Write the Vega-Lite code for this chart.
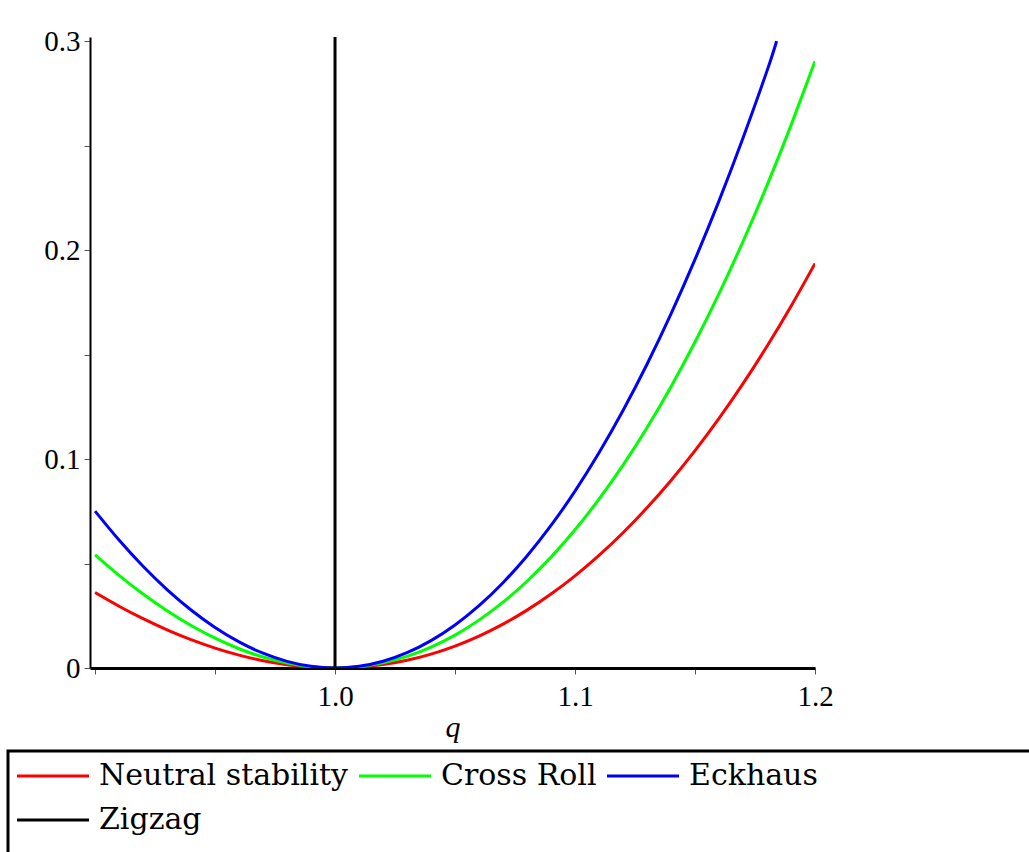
{
  "$schema": "https://vega.github.io/schema/vega-lite/v6.json",
  "width": 725,
  "height": 631,
  "autosize": {"type": "none"},
  "padding": {"left": 90, "top": 37, "right": 214, "bottom": 184},
  "background": "white",
  "config": {"view": {"stroke": null}},
  "data": {"values": [
    {"series": "Neutral stability", "q": 0.90, "value": 0.036100},
    {"series": "Neutral stability", "q": 0.91, "value": 0.029550},
    {"series": "Neutral stability", "q": 0.92, "value": 0.023593},
    {"series": "Neutral stability", "q": 0.93, "value": 0.018252},
    {"series": "Neutral stability", "q": 0.94, "value": 0.013549},
    {"series": "Neutral stability", "q": 0.95, "value": 0.009506},
    {"series": "Neutral stability", "q": 0.96, "value": 0.006147},
    {"series": "Neutral stability", "q": 0.97, "value": 0.003493},
    {"series": "Neutral stability", "q": 0.98, "value": 0.001568},
    {"series": "Neutral stability", "q": 0.99, "value": 0.000396},
    {"series": "Neutral stability", "q": 1.00, "value": 0.0},
    {"series": "Neutral stability", "q": 1.01, "value": 0.000404},
    {"series": "Neutral stability", "q": 1.02, "value": 0.001632},
    {"series": "Neutral stability", "q": 1.03, "value": 0.003709},
    {"series": "Neutral stability", "q": 1.04, "value": 0.006659},
    {"series": "Neutral stability", "q": 1.05, "value": 0.010506},
    {"series": "Neutral stability", "q": 1.06, "value": 0.015277},
    {"series": "Neutral stability", "q": 1.07, "value": 0.020996},
    {"series": "Neutral stability", "q": 1.08, "value": 0.027689},
    {"series": "Neutral stability", "q": 1.09, "value": 0.035382},
    {"series": "Neutral stability", "q": 1.10, "value": 0.044100},
    {"series": "Neutral stability", "q": 1.11, "value": 0.053870},
    {"series": "Neutral stability", "q": 1.12, "value": 0.064719},
    {"series": "Neutral stability", "q": 1.13, "value": 0.076674},
    {"series": "Neutral stability", "q": 1.14, "value": 0.089760},
    {"series": "Neutral stability", "q": 1.15, "value": 0.104006},
    {"series": "Neutral stability", "q": 1.16, "value": 0.119439},
    {"series": "Neutral stability", "q": 1.17, "value": 0.136087},
    {"series": "Neutral stability", "q": 1.18, "value": 0.153978},
    {"series": "Neutral stability", "q": 1.19, "value": 0.173139},
    {"series": "Neutral stability", "q": 1.20, "value": 0.193600},
    {"series": "Cross Roll", "q": 0.90, "value": 0.054150},
    {"series": "Cross Roll", "q": 0.91, "value": 0.044325},
    {"series": "Cross Roll", "q": 0.92, "value": 0.035389},
    {"series": "Cross Roll", "q": 0.93, "value": 0.027378},
    {"series": "Cross Roll", "q": 0.94, "value": 0.020323},
    {"series": "Cross Roll", "q": 0.95, "value": 0.014259},
    {"series": "Cross Roll", "q": 0.96, "value": 0.009220},
    {"series": "Cross Roll", "q": 0.97, "value": 0.005239},
    {"series": "Cross Roll", "q": 0.98, "value": 0.002352},
    {"series": "Cross Roll", "q": 0.99, "value": 0.000594},
    {"series": "Cross Roll", "q": 1.00, "value": 0.0},
    {"series": "Cross Roll", "q": 1.01, "value": 0.000606},
    {"series": "Cross Roll", "q": 1.02, "value": 0.002448},
    {"series": "Cross Roll", "q": 1.03, "value": 0.005563},
    {"series": "Cross Roll", "q": 1.04, "value": 0.009988},
    {"series": "Cross Roll", "q": 1.05, "value": 0.015759},
    {"series": "Cross Roll", "q": 1.06, "value": 0.022916},
    {"series": "Cross Roll", "q": 1.07, "value": 0.031494},
    {"series": "Cross Roll", "q": 1.08, "value": 0.041533},
    {"series": "Cross Roll", "q": 1.09, "value": 0.053073},
    {"series": "Cross Roll", "q": 1.10, "value": 0.066150},
    {"series": "Cross Roll", "q": 1.11, "value": 0.080806},
    {"series": "Cross Roll", "q": 1.12, "value": 0.097079},
    {"series": "Cross Roll", "q": 1.13, "value": 0.115011},
    {"series": "Cross Roll", "q": 1.14, "value": 0.134640},
    {"series": "Cross Roll", "q": 1.15, "value": 0.156009},
    {"series": "Cross Roll", "q": 1.16, "value": 0.179158},
    {"series": "Cross Roll", "q": 1.17, "value": 0.204131},
    {"series": "Cross Roll", "q": 1.18, "value": 0.230967},
    {"series": "Cross Roll", "q": 1.19, "value": 0.259708},
    {"series": "Cross Roll", "q": 1.20, "value": 0.290400},
    {"series": "Eckhaus", "q": 0.90, "value": 0.075090},
    {"series": "Eckhaus", "q": 0.91, "value": 0.061227},
    {"series": "Eckhaus", "q": 0.92, "value": 0.048696},
    {"series": "Eckhaus", "q": 0.93, "value": 0.037526},
    {"series": "Eckhaus", "q": 0.94, "value": 0.027748},
    {"series": "Eckhaus", "q": 0.95, "value": 0.019393},
    {"series": "Eckhaus", "q": 0.96, "value": 0.012490},
    {"series": "Eckhaus", "q": 0.97, "value": 0.007069},
    {"series": "Eckhaus", "q": 0.98, "value": 0.003161},
    {"series": "Eckhaus", "q": 0.99, "value": 0.000795},
    {"series": "Eckhaus", "q": 1.00, "value": 0.0},
    {"series": "Eckhaus", "q": 1.01, "value": 0.000805},
    {"series": "Eckhaus", "q": 1.02, "value": 0.003238},
    {"series": "Eckhaus", "q": 1.03, "value": 0.007329},
    {"series": "Eckhaus", "q": 1.04, "value": 0.013104},
    {"series": "Eckhaus", "q": 1.05, "value": 0.020592},
    {"series": "Eckhaus", "q": 1.06, "value": 0.029821},
    {"series": "Eckhaus", "q": 1.07, "value": 0.040816},
    {"series": "Eckhaus", "q": 1.08, "value": 0.053606},
    {"series": "Eckhaus", "q": 1.09, "value": 0.068216},
    {"series": "Eckhaus", "q": 1.10, "value": 0.084672},
    {"series": "Eckhaus", "q": 1.11, "value": 0.103000},
    {"series": "Eckhaus", "q": 1.12, "value": 0.123225},
    {"series": "Eckhaus", "q": 1.13, "value": 0.145374},
    {"series": "Eckhaus", "q": 1.14, "value": 0.169467},
    {"series": "Eckhaus", "q": 1.15, "value": 0.195531},
    {"series": "Eckhaus", "q": 1.16, "value": 0.223589},
    {"series": "Eckhaus", "q": 1.17, "value": 0.253667},
    {"series": "Eckhaus", "q": 1.18, "value": 0.285783},
    {"series": "Eckhaus", "q": 1.184, "value": 0.300000},
    {"series": "Zigzag", "q": 1.0, "value": 0.0},
    {"series": "Zigzag", "q": 1.0, "value": 0.302}
  ]},
  "mark": {"type": "line", "strokeWidth": 3, "clip": true, "interpolate": "natural"},
  "encoding": {
    "x": {
      "field": "q", "type": "quantitative",
      "scale": {"domain": [0.8979, 1.2], "nice": false, "zero": false},
      "axis": {
        "title": "q",
        "titleFont": "Liberation Serif", "titleFontSize": 30, "titleFontStyle": "italic", "titleFontWeight": "normal",
        "titleColor": "black", "titlePadding": 1,
        "values": [0.9, 0.95, 1.0, 1.05, 1.1, 1.15, 1.2],
        "labelExpr": "(datum.value > 0.97 && abs(datum.value*10 - round(datum.value*10)) < 0.001) ? format(datum.value, '.1f') : ''",
        "labelFont": "Liberation Serif", "labelFontSize": 29, "labelColor": "black",
        "labelPadding": 8, "labelFlush": false, "labelOverlap": false,
        "grid": false,
        "domainColor": "black", "domainWidth": 3,
        "tickColor": "#555555", "tickWidth": 1, "tickSize": 6
      }
    },
    "y": {
      "field": "value", "type": "quantitative",
      "scale": {"domain": [0, 0.302], "nice": false},
      "axis": {
        "title": null,
        "values": [0, 0.05, 0.1, 0.15, 0.2, 0.25, 0.3],
        "labelExpr": "datum.value == 0 ? '0' : (abs(datum.value*10 - round(datum.value*10)) < 0.001 ? format(datum.value, '.1f') : '')",
        "labelFont": "Liberation Serif", "labelFontSize": 29, "labelColor": "black",
        "labelPadding": 4, "labelFlush": false, "labelOverlap": false,
        "grid": false,
        "domainColor": "black", "domainWidth": 2,
        "tickColor": "#555555", "tickWidth": 1, "tickSize": 6
      }
    },
    "color": {
      "field": "series", "type": "nominal",
      "scale": {"domain": ["Neutral stability", "Cross Roll", "Eckhaus", "Zigzag"], "range": ["#ff0000", "#00ff00", "#0000ff", "#000000"]},
      "legend": {
        "orient": "none", "legendX": -82, "legendY": 714,
        "direction": "horizontal", "columns": 3,
        "title": " ", "titleOrient": "right", "titleFontSize": 120, "titlePadding": 290,
        "titleAnchor": "start", "titleBaseline": "top",
        "symbolType": "M-3,0H3", "symbolSize": 576, "symbolStrokeWidth": 3, "symbolOffset": 20,
        "labelFont": "DejaVu Serif", "labelFontSize": 30, "labelColor": "black", "labelOffset": 31, "labelLimit": 0,
        "columnPadding": 4, "rowPadding": 14,
        "padding": 10, "strokeColor": "black", "fillColor": "white",
        "encode": {"legend": {"update": {"strokeWidth": {"value": 3}}}}
      }
    },
    "order": {"field": "q", "type": "quantitative"}
  }
}
